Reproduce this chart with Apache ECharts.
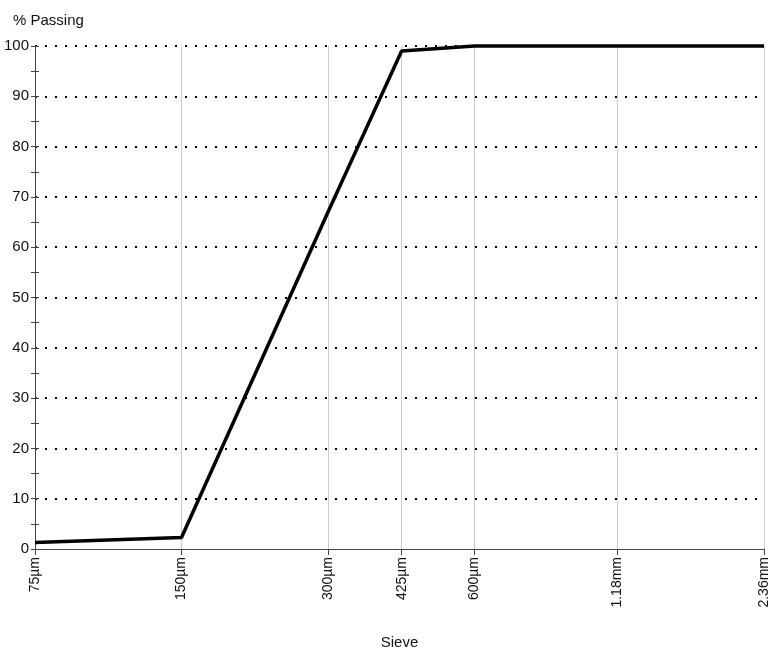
<!DOCTYPE html>
<html><head><meta charset="utf-8">
<script src="https://cdn.jsdelivr.net/npm/echarts@6/dist/echarts.min.js"></script>
<style>html,body{margin:0;padding:0;background:#fff}#c{width:769px;height:651px}</style>
</head><body><div id="c"></div>
<script>
const sieveSizes = [75, 150, 300, 425, 600, 1180, 2360];
const sieveLabels = ['75µm', '150µm', '300µm', '425µm', '600µm', '1.18mm', '2.36mm'];
const passing = [1.3, 2.3, 67, 99, 100, 100, 100];

const labelMap = {};
sieveSizes.forEach((s, i) => labelMap[s] = sieveLabels[i]);
const font = 'Liberation Sans, Arial, sans-serif';
const W = 769, gridLeft = 35, gridRight = 5;

const chart = echarts.init(document.getElementById('c'));
chart.setOption({
  animation: false,
  backgroundColor: '#fff',
  title: { text: '% Passing', left: 8, top: 8, textStyle: { fontFamily: font, fontSize: 15, fontWeight: 'normal', color: '#111' } },
  grid: { left: gridLeft, right: gridRight, top: 46, bottom: 102, containLabel: false, outerBoundsMode: 'none' },
  xAxis: {
    type: 'log', logBase: 10, min: 75, max: 2360, z: 5,
    name: 'Sieve', nameLocation: 'middle', nameGap: 86,
    nameTextStyle: { fontFamily: font, fontSize: 15, color: '#111' },
    axisLine: { show: true, onZero: false, lineStyle: { color: '#444', width: 1 } },
    axisTick: { show: true, length: 6, customValues: sieveSizes, lineStyle: { color: '#444' } },
    axisLabel: { customValues: sieveSizes, rotate: 90, margin: 8, fontFamily: font, fontSize: 14, color: '#111',
      formatter: v => labelMap[Math.round(v)] || '' , showMinLabel: true, showMaxLabel: true},
    splitLine: { show: true, showMinLine: false, lineStyle: { color: '#cccccc', width: 1, type: 'solid' } },
    minorTick: { show: false }, minorSplitLine: { show: false }
  },
  yAxis: [{
    type: 'value', min: 0, max: 100, interval: 10, z: 1,
    axisLine: { show: true, lineStyle: { color: '#444', width: 1 } },
    axisTick: { show: true, length: 4, lineStyle: { color: '#444' } },
    minorTick: { show: true, splitNumber: 2, length: 4, lineStyle: { color: '#444' } },
    axisLabel: { margin: 6, fontFamily: font, fontSize: 15, color: '#111' },
    splitLine: { show: true, showMinLine: false, lineStyle: { color: '#000', width: 2, type: [2, 8] } }
  }, {
    type: 'value', min: 0, max: 100, interval: 10, position: 'right',
    offset: -(W - gridLeft - gridRight), z: 1,
    axisLine: { show: true, lineStyle: { color: '#444', width: 1 } },
    axisTick: { show: true, inside: false, length: 4, lineStyle: { color: '#444' } },
    minorTick: { show: true, splitNumber: 2, length: 4, lineStyle: { color: '#444' } },
    axisLabel: { show: false },
    splitLine: { show: false }
  }],
  series: [{
    type: 'line', yAxisIndex: 0, z: 10,
    data: sieveSizes.map((s, i) => [s, passing[i]]),
    showSymbol: false, symbol: 'none',
    lineStyle: { color: '#000', width: 3.5 },
    clip: false
  }]
});
</script></body></html>
